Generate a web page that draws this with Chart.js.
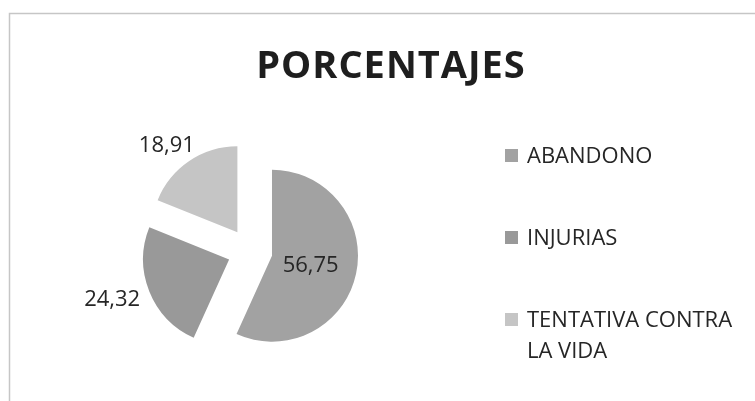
<!DOCTYPE html>
<html lang="es">
<head>
<meta charset="utf-8">
<title>PORCENTAJES</title>
<script src="https://cdn.jsdelivr.net/npm/chart.js@4.4.1/dist/chart.umd.min.js"></script>
<style>
    html, body { margin: 0; padding: 0; background: #ffffff; }
    #chart-box { width: 755px; height: 401px; }
</style>
</head>
<body>
<div id="chart-box"><canvas id="pie-chart" width="755" height="401"></canvas></div>
<script>
const chartTitle = 'PORCENTAJES';
const categories = ['ABANDONO', 'INJURIAS', 'TENTATIVA CONTRA LA VIDA'];
const percentages = [56.75, 24.32, 18.91];

const sliceColors = ['#a2a2a2', '#999999', '#c5c5c5'];
const textColor = '#262626';
const fontFamily = "'Open Sans', sans-serif";
const explode = 22.5;

const chartCanvas = document.getElementById('pie-chart');


function formatValue(value)
{
    return value.toFixed(2).replace('.', ',');
}


function wrapLabel(ctx, text, maxWidth)
{
    const words = text.split(' ');
    const lines = [];
    let line = '';

    for (const word of words)
    {
        const test = line ? line + ' ' + word : word;
        if (line && ctx.measureText(test).width > maxWidth)
        {
            lines.push(line);
            line = word;
        }
        else
        {
            line = test;
        }
    }
    if (line) lines.push(line);
    return lines;
}


// frame of the chart (only top and left edges show in the scan)
const framePlugin = {
    id: 'frame',
    beforeDraw(chart)
    {
        const ctx = chart.ctx;
        ctx.save();
        ctx.strokeStyle = '#c6c6c6';
        ctx.lineWidth = 1.5;
        ctx.strokeRect(9.5, 13.5, chart.width + 20, chart.height + 20);
        ctx.restore();
    }
};


// pulls every slice out of the centre by the same distance, like Excel does
const explodePlugin = {
    id: 'explodeSlices',
    beforeDatasetsDraw(chart)
    {
        const area = chart.chartArea;
        const cx = (area.left + area.right) / 2;
        const cy = (area.top + area.bottom) / 2;

        chart.getDatasetMeta(0).data.forEach(arc => {
            const mid = (arc.startAngle + arc.endAngle) / 2;
            arc.x = cx + Math.cos(mid) * explode;
            arc.y = cy + Math.sin(mid) * explode;
        });
    }
};


const titlePlugin = {
    id: 'titleText',
    afterDraw(chart)
    {
        const ctx = chart.ctx;
        ctx.save();
        ctx.font = 'bold 38px ' + fontFamily;
        ctx.letterSpacing = '1px';
        ctx.fillStyle = '#1e1e1e';
        ctx.textAlign = 'center';
        ctx.textBaseline = 'alphabetic';
        ctx.fillText(chartTitle, 391, 78);
        ctx.restore();
    }
};


const legendPlugin = {
    id: 'sideLegend',
    afterDraw(chart)
    {
        const ctx = chart.ctx;
        const colors = chart.data.datasets[0].backgroundColor;
        const boxX = 505;
        const textX = 527;
        const lineHeight = 31;
        let baseline = 163;

        ctx.save();
        ctx.font = '22px ' + fontFamily;
        ctx.textAlign = 'left';
        ctx.textBaseline = 'alphabetic';

        chart.data.labels.forEach((label, i) => {
            ctx.fillStyle = colors[i];
            ctx.fillRect(boxX, baseline - 14, 13, 13);

            ctx.fillStyle = textColor;
            const lines = wrapLabel(ctx, label, chart.width - textX - 8);
            lines.forEach((text, k) => {
                ctx.fillText(text, textX, baseline + k * lineHeight);
            });
            baseline += 82;
        });
        ctx.restore();
    }
};


const valueLabelPlugin = {
    id: 'valueLabels',
    afterDatasetsDraw(chart)
    {
        const ctx = chart.ctx;
        const meta = chart.getDatasetMeta(0);
        const values = chart.data.datasets[0].data;

        ctx.save();
        ctx.font = '22px ' + fontFamily;
        ctx.fillStyle = textColor;
        ctx.textAlign = 'center';
        ctx.textBaseline = 'alphabetic';

        meta.data.forEach((arc, i) => {
            const mid = (arc.startAngle + arc.endAngle) / 2;
            const dx = Math.cos(mid);
            const dy = Math.sin(mid);
            const text = formatValue(values[i]);
            const w = ctx.measureText(text).width;
            const h = 15;
            let cx, cy;

            if (arc.circumference > Math.PI)
            {
                const d = arc.outerRadius * 0.46;
                cx = arc.x + dx * d;
                cy = arc.y + dy * d;
            }
            else
            {
                const d = arc.outerRadius + 12;
                cx = arc.x + dx * d + dx * w / 2;
                cy = arc.y + dy * d + dy * h / 2;
            }
            ctx.fillText(text, cx, cy + h / 2);
        });
        ctx.restore();
    }
};


const config = {
    type: 'pie',
    data: {
        labels: categories,
        datasets: [{
            data: percentages,
            backgroundColor: sliceColors,
            borderWidth: 0,
            hoverOffset: 0
        }]
    },
    options: {
        responsive: false,
        animation: false,
        events: [],
        radius: 86,
        layout: {
            padding: { left: 153, right: 408, top: 154, bottom: 53 }
        },
        plugins: {
            legend: { display: false },
            title: { display: false },
            tooltip: { enabled: false }
        }
    },
    plugins: [framePlugin, explodePlugin, valueLabelPlugin, titlePlugin, legendPlugin]
};

Chart.defaults.font.family = fontFamily;
const myChart = new Chart(chartCanvas, config);
</script>
</body>
</html>
